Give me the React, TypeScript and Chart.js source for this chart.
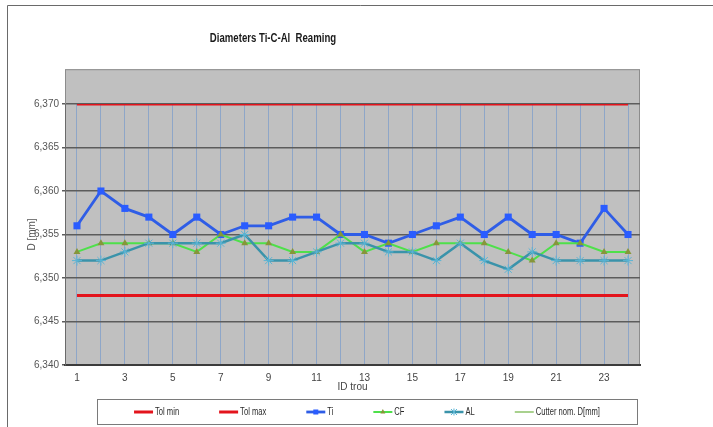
import React, { useEffect, useRef } from "react";
import { Chart, registerables } from "chart.js";

Chart.register(...registerables);

const categories = ["1","2","3","4","5","6","7","8","9","10","11","12","13","14","15","16","17","18","19","20","21","22","23","24"];
const tolMin = [6.348,6.348,6.348,6.348,6.348,6.348,6.348,6.348,6.348,6.348,6.348,6.348,6.348,6.348,6.348,6.348,6.348,6.348,6.348,6.348,6.348,6.348,6.348,6.348];
const tolMax = [6.370,6.370,6.370,6.370,6.370,6.370,6.370,6.370,6.370,6.370,6.370,6.370,6.370,6.370,6.370,6.370,6.370,6.370,6.370,6.370,6.370,6.370,6.370,6.370];
const ti = [6.356,6.360,6.358,6.357,6.355,6.357,6.355,6.356,6.356,6.357,6.357,6.355,6.355,6.354,6.355,6.356,6.357,6.355,6.357,6.355,6.355,6.354,6.358,6.355];
const cf = [6.353,6.354,6.354,6.354,6.354,6.353,6.355,6.354,6.354,6.353,6.353,6.355,6.353,6.354,6.353,6.354,6.354,6.354,6.353,6.352,6.354,6.354,6.353,6.353];
const al = [6.352,6.352,6.353,6.354,6.354,6.354,6.354,6.355,6.352,6.352,6.353,6.354,6.354,6.353,6.353,6.352,6.354,6.352,6.351,6.353,6.352,6.352,6.352,6.352];
const cutterNom: number[] = [];

const yMin = 6.340;
const yMax = 6.370;
const yStep = 0.005;
const plotTopValue = 6.374;

const titleText = "Diameters Ti-C-Al  Reaming";
const xTitle = "ID trou";
const yTitle = "D [mm]";

const FONT = "'Liberation Sans', Arial, sans-serif";

export default function App() {
  const ref = useRef<HTMLCanvasElement>(null);

  useEffect(() => {
    if (!ref.current) return;

    const decor = {
      id: "decor",
      beforeDraw(chart: any) {
        const { ctx, chartArea } = chart;
        const y = chart.scales.y;
        ctx.save();
        ctx.fillStyle = "#ffffff";
        ctx.fillRect(0, 0, chart.width, chart.height);
        ctx.strokeStyle = "#6a6a6a";
        ctx.lineWidth = 1;
        ctx.beginPath();
        ctx.moveTo(7.5, chart.height);
        ctx.lineTo(7.5, 5.5);
        ctx.lineTo(chart.width, 5.5);
        ctx.stroke();
        const top = y.getPixelForValue(plotTopValue);
        ctx.fillStyle = "#c0c0c0";
        ctx.fillRect(chartArea.left, top, chartArea.right - chartArea.left, chartArea.bottom - top);
        ctx.strokeStyle = "#8c8c8c";
        ctx.strokeRect(chartArea.left + 0.5, top + 0.5, chartArea.right - chartArea.left - 1, chartArea.bottom - top);
        ctx.restore();
      },
      afterDraw(chart: any) {
        const { ctx } = chart;
        ctx.save();
        // title
        ctx.save();
        ctx.fillStyle = "#1a1a1a";
        ctx.font = "bold 12px " + FONT;
        ctx.textAlign = "center";
        ctx.textBaseline = "middle";
        ctx.translate(273, 39);
        ctx.scale(0.8, 1);
        ctx.fillText(titleText, 0, 0);
        ctx.restore();

        // legend
        const boxL = 97, boxR = 637, boxT = 399, boxB = 424;
        ctx.fillStyle = "#ffffff";
        ctx.fillRect(boxL, boxT, boxR - boxL, boxB - boxT);
        ctx.strokeStyle = "#7a7a7a";
        ctx.lineWidth = 1;
        ctx.strokeRect(boxL + 0.5, boxT + 0.5, boxR - boxL, boxB - boxT);
        ctx.font = "10px " + FONT;
        ctx.textAlign = "left";
        const sx = 0.76;
        const lineLen = 19;
        const gap = 40;
        const dss = chart.data.datasets;
        const widths = dss.map((d: any) => ctx.measureText(d.label).width * sx);
        const total = widths.reduce((a: number, w: number) => a + w + lineLen + 2, 0) + gap * (dss.length - 1);
        let x = (boxL + boxR) / 2 - total / 2;
        const cy = (boxT + boxB) / 2 + 0.5;
        dss.forEach((d: any, i: number) => {
          ctx.strokeStyle = d.borderColor;
          ctx.lineWidth = Math.min(d.borderWidth, 3);
          ctx.beginPath();
          ctx.moveTo(x, cy);
          ctx.lineTo(x + lineLen, cy);
          ctx.stroke();
          const c = x + lineLen / 2;
          if (d.legendMarker === "rect") {
            ctx.fillStyle = d.pointBackgroundColor;
            ctx.fillRect(c - 2.5, cy - 2.5, 5, 5);
          } else if (d.legendMarker === "triangle") {
            ctx.fillStyle = d.pointBackgroundColor;
            ctx.beginPath();
            ctx.moveTo(c, cy - 3);
            ctx.lineTo(c + 2.5, cy + 1.5);
            ctx.lineTo(c - 2.5, cy + 1.5);
            ctx.closePath();
            ctx.fill();
          } else if (d.legendMarker === "star") {
            ctx.strokeStyle = d.pointBorderColor;
            ctx.lineWidth = 1;
            ctx.beginPath();
            ctx.moveTo(c - 3, cy - 3); ctx.lineTo(c + 3, cy + 3);
            ctx.moveTo(c + 3, cy - 3); ctx.lineTo(c - 3, cy + 3);
            ctx.moveTo(c, cy - 3.5); ctx.lineTo(c, cy + 3.5);
            ctx.stroke();
          }
          x += lineLen + 2;
          ctx.save();
          ctx.translate(x, cy);
          ctx.scale(sx, 1);
          ctx.fillStyle = "#2a2a2a";
          ctx.textBaseline = "middle";
          ctx.fillText(d.label, 0, 0);
          ctx.restore();
          x += widths[i] + gap;
        });
        ctx.restore();
      },
    };

    const chart = new Chart(ref.current, {
      type: "line",
      data: {
        labels: categories,
        datasets: [
          { label: "Tol min", data: tolMin, borderColor: "#e3141c", backgroundColor: "#e3141c", borderWidth: 3, pointRadius: 0, order: 5 } as any,
          { label: "Tol max", data: tolMax, borderColor: "#e3141c", backgroundColor: "#e3141c", borderWidth: 3, pointRadius: 0, order: 4 } as any,
          { label: "Ti", data: ti, borderColor: "#2f5de6", backgroundColor: "#2f5de6", borderWidth: 2.8, pointStyle: "rect", pointRadius: 5, pointBackgroundColor: "#2a5cff", pointBorderColor: "#2a5cff", pointBorderWidth: 0, order: 3, legendMarker: "rect" } as any,
          { label: "CF", data: cf, borderColor: "#4ee04a", backgroundColor: "#4ee04a", borderWidth: 2, pointStyle: "triangle", pointRadius: 4, pointBackgroundColor: "#86963a", pointBorderColor: "#86963a", pointBorderWidth: 0, order: 2, legendMarker: "triangle" } as any,
          { label: "AL", data: al, borderColor: "#3a93aa", backgroundColor: "#3a93aa", borderWidth: 2.5, pointStyle: "star", pointRadius: 5, pointBackgroundColor: "#5ab4d4", pointBorderColor: "#5ab4d4", pointBorderWidth: 1, order: 1, legendMarker: "star" } as any,
          { label: "Cutter nom. D[mm]", data: cutterNom, borderColor: "#a9d18e", backgroundColor: "#a9d18e", borderWidth: 2, pointRadius: 0, order: 6 } as any,
        ],
      },
      options: {
        responsive: false,
        animation: false,
        events: [],
        layout: { padding: { left: 0, top: 104, right: 73, bottom: 32 } },
        plugins: {
          legend: { display: false },
          title: { display: false },
          tooltip: { enabled: false },
        },
        elements: { line: { tension: 0 } },
        scales: {
          x: {
            type: "category",
            offset: true,
            grid: { offset: false, color: "#8ea6c8", lineWidth: 1, drawTicks: false },
            border: { color: "#3c3c3c", width: 2 },
            ticks: {
              autoSkip: false,
              maxRotation: 0,
              padding: 7,
              color: "#444",
              font: { family: FONT, size: 10 },
              callback: function (this: any, value: any, index: number) {
                return index % 2 === 0 ? this.getLabelForValue(value) : "";
              },
            },
            title: { display: true, text: xTitle, color: "#444", font: { family: FONT, size: 10 }, padding: { top: 0, bottom: 2 } },
            afterFit: (s: any) => { s.height = 30; },
          },
          y: {
            type: "linear",
            min: yMin,
            max: yMax,
            ticks: {
              stepSize: yStep,
              padding: 3,
              color: "#555",
              font: { family: FONT, size: 10 },
              callback: (v: any) => Number(v).toFixed(3).replace(".", ","),
            },
            afterBuildTicks: (s: any) => {
              s.ticks = s.ticks.filter((t: any) => Math.abs(t.value / yStep - Math.round(t.value / yStep)) < 1e-6);
            },
            grid: { color: "#5c5c5c", lineWidth: 1.5, drawTicks: true, tickLength: 3 },
            border: { color: "#6a6a6a", width: 1 },
            title: { display: true, text: yTitle, color: "#555", font: { family: FONT, size: 10 }, padding: { top: 26, bottom: 0 } },
            afterFit: (s: any) => { s.width = 65; },
          },
        },
      },
      plugins: [decor],
    } as any);

    return () => chart.destroy();
  }, []);

  return (
    <div style={{ position: "fixed", left: 0, top: 0, width: 713, height: 427 }}>
      <canvas ref={ref} width={713} height={427} style={{ display: "block", width: 713, height: 427 }} />
    </div>
  );
}
